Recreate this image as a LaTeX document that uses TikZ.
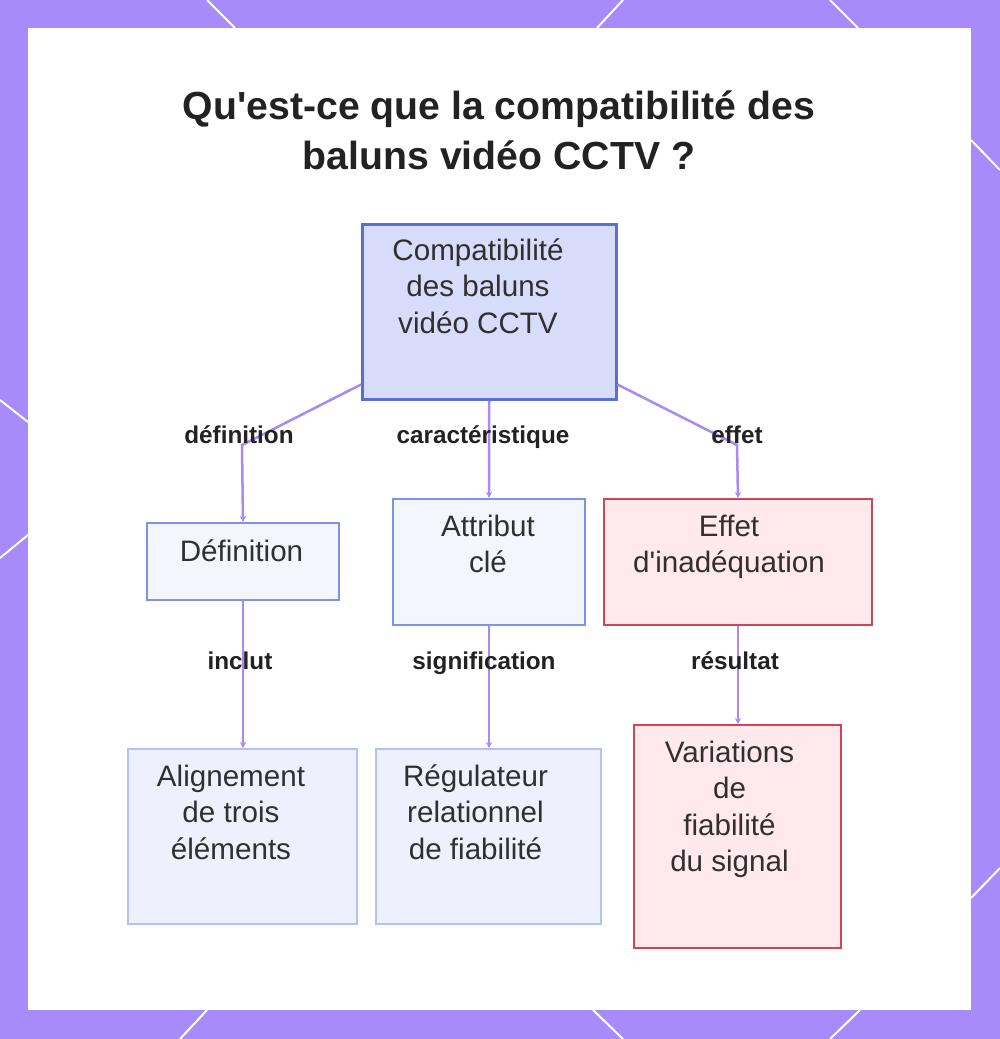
\documentclass[tikz,border=0pt]{standalone}
\usepackage{fontspec}
\setmainfont{Liberation Sans}
\usetikzlibrary{arrows.meta}
\definecolor{bgpurple}{HTML}{A78BFA}
\definecolor{connc}{HTML}{A68BF2}
\definecolor{topfill}{HTML}{D8DCFB}
\definecolor{topdraw}{HTML}{5A6FD4}
\definecolor{midfill}{HTML}{F4F6FE}
\definecolor{middraw}{HTML}{7C93E8}
\definecolor{lowfill}{HTML}{EEF1FD}
\definecolor{lowdraw}{HTML}{B3C2F5}
\definecolor{pinkfill}{HTML}{FFE9EC}
\definecolor{pinkdraw}{HTML}{CF4457}
\definecolor{txtc}{HTML}{303030}
\definecolor{lblc}{HTML}{222222}
\newcommand\mlines[1]{\begin{tabular}[t]{@{}c@{}}#1\end{tabular}}
\begin{document}
\begin{tikzpicture}[x=1pt,y=-1pt,
  box/.style={rectangle, anchor=north west, inner sep=0pt, line width=2pt},
  topbox/.style={box, fill=topfill, draw=topdraw, line width=2.5pt},
  midbox/.style={box, fill=midfill, draw=middraw},
  lowbox/.style={box, fill=lowfill, draw=lowdraw},
  pinkbox/.style={box, fill=pinkfill, draw=pinkdraw},
  ntext/.style={anchor=base, inner sep=0pt, text=txtc, font=\fontsize{29.6}{36.5}\selectfont},
  lbl/.style={anchor=base, inner sep=0pt, text=lblc, font=\bfseries\fontsize{24.3}{28}\selectfont},
  ttl/.style={anchor=base, inner sep=0pt, text=lblc, font=\bfseries\fontsize{39.2}{50}\selectfont},
  conn/.style={draw=connc, line width=2.5pt, -{Stealth[length=6pt,width=6pt]}},
  deco/.style={draw=white, line width=2pt}]
\useasboundingbox (0,0) rectangle (1000,1039);
\fill[bgpurple] (0,0) rectangle (1000,1039);
\fill[white] (28,28) rectangle (971,1010);
% decorative border lines
\draw[deco] (207,0) -- (235,28);
\draw[deco] (623,0) -- (597,28);
\draw[deco] (830,0) -- (858,28);
\draw[deco] (971,140) -- (1000,170);
\draw[deco] (971,898) -- (1000,868);
\draw[deco] (0,400) -- (28,422);
\draw[deco] (28,535) -- (0,558);
\draw[deco] (207,1010) -- (180,1039);
\draw[deco] (593,1010) -- (623,1039);
\draw[deco] (860,1010) -- (830,1039);
% title
\node[ttl] (title1) at (499,119) {Qu\textquotesingle est-ce que la compatibilité des};
\node[ttl] (title2) at (499,169) {baluns vidéo CCTV ?};
% boxes
\node[topbox, minimum width=254pt, minimum height=175pt] (top) at (361,223) {};
\node[midbox, minimum width=192pt, minimum height=77pt] (def) at (146,522) {};
\node[midbox, minimum width=192pt, minimum height=126pt] (attr) at (392,498) {};
\node[pinkbox, minimum width=268pt, minimum height=126pt] (eff) at (603,498) {};
\node[lowbox, minimum width=229pt, minimum height=175pt] (alig) at (127,748) {};
\node[lowbox, minimum width=225pt, minimum height=175pt] (regu) at (375,748) {};
\node[pinkbox, minimum width=207pt, minimum height=223pt] (vari) at (633,724) {};
% box texts
\node[ntext] (ttop) at (478,260) {\mlines{Compatibilité\\des baluns\\vidéo CCTV}};
\node[ntext] (tdef) at (241.5,561) {Définition};
\node[ntext] (tattr) at (488,536) {\mlines{Attribut\\clé}};
\node[ntext] (teff) at (729,536) {\mlines{Effet\\d\textquotesingle inadéquation}};
\node[ntext] (talig) at (231,786) {\mlines{Alignement\\de trois\\éléments}};
\node[ntext] (tregu) at (475.5,786) {\mlines{Régulateur\\relationnel\\de fiabilité}};
\node[ntext] (tvari) at (729.5,762) {\mlines{Variations\\de\\fiabilité\\du signal}};
% connectors
\coordinate (b1) at (242,445);
\coordinate (b2) at (737,445);
\draw[conn] ([yshift=16pt]top.south west) -- (b1) -- (def.north);
\draw[conn] (top.south) -- (attr.north);
\draw[conn] ([yshift=16pt]top.south east) -- (b2) -- (eff.north);
\draw[conn] (def.south) -- (def.south |- alig.north);
\draw[conn] (attr.south) -- (attr.south |- regu.north);
\draw[conn] (eff.south) -- (eff.south |- vari.north);
% labels
\node[lbl] (l1) at (239,443) {définition};
\node[lbl] (l2) at (483,443) {caractéristique};
\node[lbl] (l3) at (737,443) {effet};
\node[lbl] (l4) at (240,669) {inclut};
\node[lbl] (l5) at (484,669) {signification};
\node[lbl] (l6) at (735,669) {résultat};
\end{tikzpicture}
\end{document}
